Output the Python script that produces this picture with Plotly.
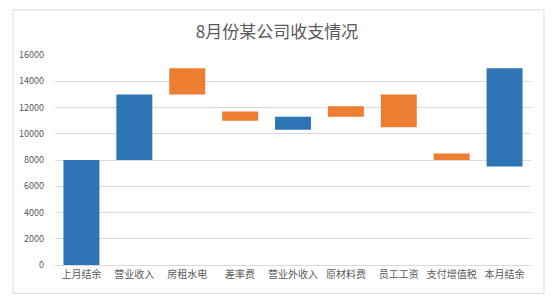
import plotly.graph_objects as go

categories = ["上月结余", "营业收入", "房租水电", "差率费", "营业外收入", "原材料费", "员工工资", "支付增值税", "本月结余"]
bottoms = [0, 8000, 13000, 11000, 10300, 11300, 10500, 8000, 7500]
tops = [8000, 13000, 15000, 11700, 11300, 12100, 13000, 8500, 15000]
kinds = ["in", "in", "out", "out", "in", "out", "out", "out", "in"]
y_ticks = [0, 2000, 4000, 6000, 8000, 10000, 12000, 14000, 16000]

BLUE = "#2E75B6"
ORANGE = "#ED7D31"
colors = [BLUE if k == "in" else ORANGE for k in kinds]
heights = [t - b for t, b in zip(tops, bottoms)]

fig = go.Figure(go.Bar(
    x=categories, y=heights, base=bottoms,
    marker=dict(color=colors, line=dict(width=0)),
    hoverinfo="skip",
))

L, R, T, B = 55, 23, 55, 38.3
W, H = 554, 303
pw, ph = W - L - R, H - T - B

fig.update_layout(
    width=W, height=H,
    margin=dict(l=L, r=R, t=T, b=B, pad=0),
    paper_bgcolor="white", plot_bgcolor="white",
    font=dict(family="Noto Sans CJK SC, sans-serif", color="#595959"),
    title=dict(text="8月份某公司收支情况", x=0.5, xanchor="center", y=1 - 32 / H, yanchor="middle",
               font=dict(size=17, color="#595959")),
    bargap=0.32,
    showlegend=False,
    xaxis=dict(showline=True, linecolor="#d9d9d9", linewidth=1, ticks="", tickfont=dict(size=10, color="#595959"),
               showgrid=False, fixedrange=True),
    yaxis=dict(range=[0, 16000], tickvals=y_ticks, ticktext=[str(v) for v in y_ticks],
               showgrid=True, gridcolor="#d9d9d9", gridwidth=1,
               zeroline=False, showline=False, ticks="", tickfont=dict(size=9, color="#595959"),
               ticklabelstandoff=10, fixedrange=True),
    shapes=[dict(type="rect", xref="paper", yref="paper",
                 x0=(13 - L) / pw, x1=(544 - L) / pw,
                 y0=-(293 - (H - B)) / ph, y1=1 + (T - 10) / ph,
                 line=dict(color="#d9d9d9", width=1), layer="below")],
)

fig.write_html("out.html")
